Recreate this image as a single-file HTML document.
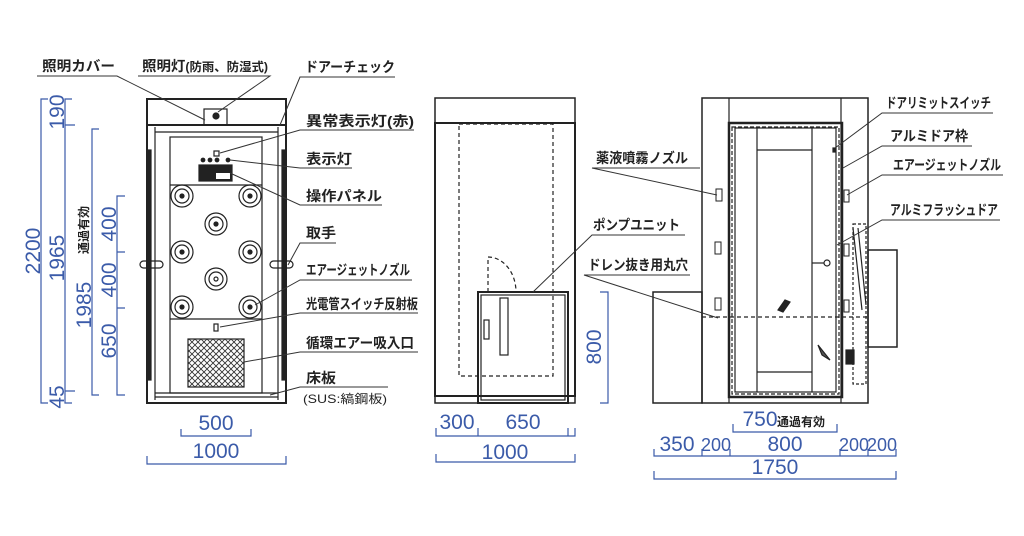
<!DOCTYPE html>
<html><head><meta charset="utf-8"><style>
html,body{margin:0;padding:0;background:#fff;}
svg{display:block;}
.l{font-family:"Liberation Sans","Noto Sans CJK JP",sans-serif;font-size:14px;font-weight:bold;fill:#222;}
.n{font-family:"Liberation Sans",sans-serif;font-size:21px;fill:#3b5ba9;}
.nv{font-family:"Liberation Sans","Noto Sans CJK JP",sans-serif;font-size:12px;font-weight:bold;fill:#222;}
</style></head><body>
<svg width="1024" height="536" viewBox="0 0 1024 536" xmlns="http://www.w3.org/2000/svg">
<g fill="none" stroke="#222" stroke-width="1.2">
<!-- FRONT VIEW -->
<rect x="147" y="99" width="139" height="26" stroke-width="2"/>
<rect x="147" y="125" width="139" height="278" stroke-width="2"/>
<rect x="204" y="109" width="23" height="16"/>
<circle cx="216" cy="116" r="3" fill="#222"/>
<line x1="155" y1="127" x2="155" y2="400"/><line x1="278" y1="127" x2="278" y2="400"/>
<rect x="147" y="150" width="4" height="230" fill="#222"/><rect x="282" y="150" width="4" height="230" fill="#222"/>
<line x1="155" y1="132" x2="278" y2="132"/>
<rect x="170" y="137" width="92" height="256"/>
<line x1="170" y1="185" x2="262" y2="185"/><line x1="170" y1="319" x2="262" y2="319"/>
<line x1="155" y1="393" x2="278" y2="393"/><line x1="155" y1="397" x2="278" y2="397"/>
<rect x="214" y="151" width="5" height="5"/>
<circle cx="203" cy="160" r="1.8" fill="#222"/><circle cx="210" cy="160" r="1.8" fill="#222"/><circle cx="217" cy="160" r="1.8" fill="#222"/><circle cx="228" cy="160" r="1.8" fill="#222"/>
<rect x="199" y="165" width="33" height="16" fill="#222"/><rect x="216" y="173" width="14" height="6" fill="#fff" stroke="none"/>
<g>
<circle cx="182" cy="196" r="11"/><circle cx="182" cy="196" r="7"/><circle cx="182" cy="196" r="2" fill="#222"/>
<circle cx="250" cy="196" r="11"/><circle cx="250" cy="196" r="7"/><circle cx="250" cy="196" r="2" fill="#222"/>
<circle cx="216" cy="224" r="11"/><circle cx="216" cy="224" r="7"/><circle cx="216" cy="224" r="2" fill="#222"/>
<circle cx="182" cy="252" r="11"/><circle cx="182" cy="252" r="7"/><circle cx="182" cy="252" r="2" fill="#222"/>
<circle cx="250" cy="252" r="11"/><circle cx="250" cy="252" r="7"/><circle cx="250" cy="252" r="2" fill="#222"/>
<circle cx="216" cy="279" r="11"/><circle cx="216" cy="279" r="7"/><circle cx="216" cy="279" r="2"/>
<circle cx="182" cy="307" r="11"/><circle cx="182" cy="307" r="7"/><circle cx="182" cy="307" r="2" fill="#222"/>
<circle cx="250" cy="307" r="11"/><circle cx="250" cy="307" r="7"/><circle cx="250" cy="307" r="2" fill="#222"/>
</g>
<rect x="214" y="324" width="4" height="7"/>
<rect x="140" y="261" width="23" height="7" rx="3.5"/><rect x="270" y="261" width="23" height="7" rx="3.5"/>
<defs><pattern id="hx" width="6" height="6" patternUnits="userSpaceOnUse"><path d="M0 0L6 6M6 0L0 6" stroke="#333" stroke-width="0.9"/></pattern></defs>
<rect x="188" y="339" width="56" height="48" fill="url(#hx)"/>

<!-- MIDDLE VIEW -->
<rect x="435" y="98" width="140" height="25" stroke-width="1.5"/>
<rect x="435" y="123" width="140" height="273" stroke-width="2"/>
<rect x="435" y="396" width="140" height="7" stroke-width="1.5"/>
<rect x="459" y="124" width="94" height="252" stroke-dasharray="4,3"/>
<rect x="478" y="292" width="90" height="111" stroke-width="2"/>
<rect x="481" y="295" width="84" height="105"/>
<rect x="500" y="298" width="8" height="57"/><rect x="484" y="320" width="5" height="19"/>
<path d="M488 292 V257 A28 35 0 0 1 516 292" stroke-dasharray="4,3"/>

<!-- RIGHT VIEW -->
<rect x="702" y="98" width="166" height="305" stroke-width="1.5"/>
<line x1="729" y1="98" x2="729" y2="403"/><line x1="841" y1="98" x2="841" y2="403"/>
<rect x="729" y="123" width="113" height="274" stroke-width="2.5"/>
<rect x="732" y="127" width="107" height="267" stroke-dasharray="4,2"/>
<rect x="735" y="128" width="101" height="264"/>
<line x1="757" y1="128" x2="757" y2="392"/><line x1="812" y1="128" x2="812" y2="392"/>
<line x1="757" y1="150" x2="812" y2="150"/><line x1="757" y1="372" x2="812" y2="372"/>
<rect x="653" y="292" width="49" height="111" stroke-width="1.5"/>
<line x1="702" y1="317" x2="868" y2="317" stroke-dasharray="4,3"/>
<rect x="868" y="250" width="29" height="97" stroke-width="1.5"/>
<rect x="853" y="224" width="13" height="160" stroke-dasharray="3,2"/>
<path d="M853 228 L862 310 M858 228 L866 305"/>
<path d="M812 263 H824" /><circle cx="827" cy="263" r="3"/>
<path d="M778 310 L785 300 L790 302 L783 312 Z" fill="#222"/>
<path d="M818 345 L830 360 L822 355 Z" fill="#555"/>
<rect x="846" y="350" width="8" height="14" fill="#222"/>
<rect x="833" y="148" width="2" height="4" fill="#222"/>
<g stroke-width="1">
<path d="M716 189h6v12h-6zM715 242h6v12h-6zM715 298h6v12h-6z"/>
<path d="M844 190h5v12h-5zM844 244h5v12h-5zM844 300h5v12h-5z"/>
</g>
</g>

<!-- leader lines -->
<g stroke="#333" stroke-width="1" fill="none">
<path d="M37 76H117L205 120"/>
<path d="M138 76H270L218 112"/>
<path d="M395 77H300L280 125"/>
<path d="M414 130H300L220 153"/>
<path d="M352 168H300L230 160"/>
<path d="M382 205H300L230 173"/>
<path d="M336 243H300L288 265"/>
<path d="M412 280H300L255 305"/>
<path d="M418 313H300L220 327"/>
<path d="M418 352H300L244 362"/>
<path d="M388 387H300L270 395"/>
<path d="M700 168H592L717 195" />
<path d="M685 235H592L533 292"/>
<path d="M690 275H584L718 318"/>
<path d="M993 113H882L835 148"/>
<path d="M972 146H882L843 168"/>
<path d="M1003 175H882L847 195"/>
<path d="M1000 220H882L837 245"/>
</g>

<!-- labels -->
<g class="l">
<text x="42" y="71" textLength="73" lengthAdjust="spacingAndGlyphs">照明カバー</text>
<text x="142" y="71" textLength="126" lengthAdjust="spacingAndGlyphs">照明灯<tspan font-size="12">(防雨、防湿式)</tspan></text>
<text x="305" y="72" textLength="90" lengthAdjust="spacingAndGlyphs">ドアーチェック</text>
<text x="306" y="126" textLength="108" lengthAdjust="spacingAndGlyphs">異常表示灯(赤)</text>
<text x="306" y="164" textLength="46" lengthAdjust="spacingAndGlyphs">表示灯</text>
<text x="306" y="201" textLength="76" lengthAdjust="spacingAndGlyphs">操作パネル</text>
<text x="306" y="238" textLength="30" lengthAdjust="spacingAndGlyphs">取手</text>
<text x="306" y="275" textLength="104" lengthAdjust="spacingAndGlyphs">エアージェットノズル</text>
<text x="306" y="309" textLength="112" lengthAdjust="spacingAndGlyphs">光電管スイッチ反射板</text>
<text x="306" y="348" textLength="108" lengthAdjust="spacingAndGlyphs">循環エアー吸入口</text>
<text x="306" y="383" textLength="30" lengthAdjust="spacingAndGlyphs">床板</text>
<text x="303" y="403" font-size="12" font-weight="normal" textLength="84" lengthAdjust="spacingAndGlyphs">(SUS:縞鋼板)</text>
<text x="596" y="163" textLength="92" lengthAdjust="spacingAndGlyphs">薬液噴霧ノズル</text>
<text x="593" y="230" textLength="87" lengthAdjust="spacingAndGlyphs">ポンプユニット</text>
<text x="588" y="270" textLength="100" lengthAdjust="spacingAndGlyphs">ドレン抜き用丸穴</text>
<text x="886" y="108" textLength="105" lengthAdjust="spacingAndGlyphs">ドアリミットスイッチ</text>
<text x="890" y="141" textLength="78" lengthAdjust="spacingAndGlyphs">アルミドア枠</text>
<text x="893" y="170" textLength="108" lengthAdjust="spacingAndGlyphs">エアージェットノズル</text>
<text x="890" y="215" textLength="108" lengthAdjust="spacingAndGlyphs">アルミフラッシュドア</text>
</g>

<!-- dimensions -->
<g stroke="#3b5ba9" stroke-width="1.2" fill="none">
<path d="M48 99H41V403H48"/>
<path d="M72 99H65V403H72 M65 125H75 M65 391H75"/>
<path d="M99 129H92V395H99"/>
<path d="M125 196H117V395H125 M117 252H125 M117 308H125"/>
<path d="M181 429V436H251V429"/>
<path d="M147 456V464H286V456"/>
<path d="M436 428V436H575V428 M478 428V436 M568 428V436"/>
<path d="M436 454V462H575V454"/>
<path d="M600 292H608V403H600"/>
<path d="M733 424V432H837V424"/>
<path d="M654 449V456H896V449 M702 449V456 M730 449V456 M840 449V456 M868 449V456"/>
<path d="M654 471V479H896V471"/>
</g>
<g class="n">
<text transform="translate(40,251) rotate(-90)" text-anchor="middle">2200</text>
<text transform="translate(64,112) rotate(-90)" text-anchor="middle">190</text>
<text transform="translate(64,258) rotate(-90)" text-anchor="middle">1965</text>
<text transform="translate(64,397) rotate(-90)" text-anchor="middle">45</text>
<text transform="translate(91,305) rotate(-90)" text-anchor="middle">1985</text>
<text transform="translate(116,224) rotate(-90)" text-anchor="middle">400</text>
<text transform="translate(116,280) rotate(-90)" text-anchor="middle">400</text>
<text transform="translate(116,341) rotate(-90)" text-anchor="middle">650</text>
<text transform="translate(601,347) rotate(-90)" text-anchor="middle">800</text>
<text x="216" y="430" text-anchor="middle">500</text>
<text x="216" y="458" text-anchor="middle">1000</text>
<text x="457" y="429" text-anchor="middle">300</text>
<text x="523" y="429" text-anchor="middle">650</text>
<text x="505" y="459" text-anchor="middle">1000</text>
<text x="760" y="426" text-anchor="middle">750</text>
<text x="677" y="451" text-anchor="middle">350</text>
<text x="716" y="451" text-anchor="middle" font-size="18">200</text>
<text x="785" y="451" text-anchor="middle">800</text>
<text x="854" y="451" text-anchor="middle" font-size="18">200</text>
<text x="882" y="451" text-anchor="middle" font-size="18">200</text>
<text x="775" y="474" text-anchor="middle">1750</text>
</g>
<text class="nv" transform="translate(88,230) rotate(-90)" text-anchor="middle">通過有効</text>
<text class="nv" x="777" y="426">通過有効</text>
</svg>
</body></html>
